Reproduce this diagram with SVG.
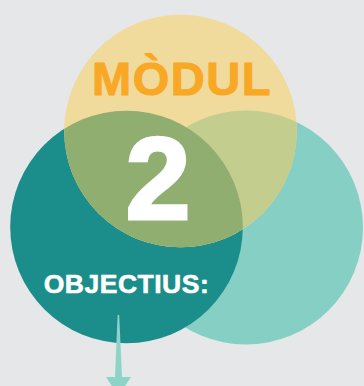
<svg xmlns="http://www.w3.org/2000/svg" width="364" height="386" viewBox="0 0 364 386">
  <style>
    .t { font-family: "Liberation Sans", Arial, sans-serif; font-weight: bold; stroke-linejoin: round; }
  </style>
  <defs>
    <clipPath id="clipLight"><circle cx="246" cy="227.5" r="117"/></clipPath>
    <clipPath id="clipDark"><circle cx="126.5" cy="227" r="116.3"/></clipPath>
  </defs>
  <rect width="364" height="386" fill="#e6e7e8"/>
  <g id="circle-right">
    <circle cx="246" cy="227.5" r="117" fill="#86cfc5"/>
  </g>
  <g id="circle-left">
    <circle cx="126.5" cy="227" r="116.3" fill="#1b8d8a"/>
  </g>
  <g id="circle-top">
    <circle cx="180.5" cy="131" r="116.3" fill="#f0da9c"/>
    <circle cx="180.5" cy="131" r="116.3" fill="#c2cd8e" clip-path="url(#clipLight)"/>
    <circle cx="180.5" cy="131" r="116.3" fill="#8fae6f" clip-path="url(#clipDark)"/>
  </g>
  <g id="connectors">
    <polygon points="117.6,315 119.2,315 122,377.5 115,377.5" fill="#8ed3c8"/>
    <polygon points="106,377 131,377 118.5,396" fill="#8ed3c8"/>
  </g>
  <g id="label-modul">
    <text class="t" x="182" y="95" font-size="47" text-anchor="middle" letter-spacing="1.5" fill="#f9a826" stroke="#f9a826" stroke-width="1">MÒDUL</text>
  </g>
  <g id="label-number">
    <text class="t" x="158" y="219" font-size="117" text-anchor="middle" fill="#ffffff" stroke="#ffffff" stroke-width="3" style="stroke-linejoin:miter">2</text>
  </g>
  <g id="label-objectius">
    <text class="t" x="126.5" y="293" font-size="26.5" text-anchor="middle" letter-spacing="0.5" fill="#ffffff" stroke="#ffffff" stroke-width="0.6">OBJECTIUS:</text>
  </g>
</svg>
